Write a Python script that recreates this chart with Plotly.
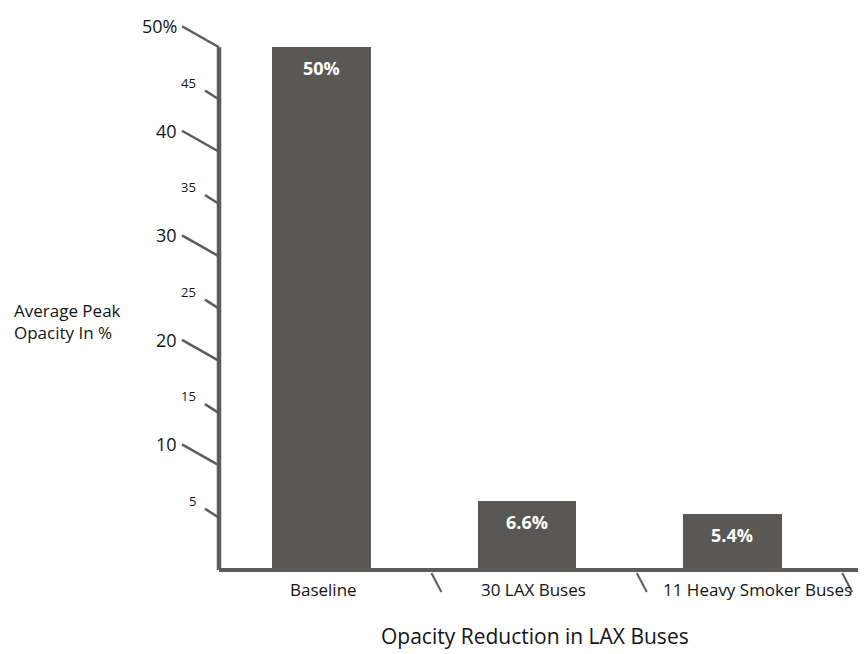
import plotly.graph_objects as go

categories = ["Baseline", "30 LAX Buses", "11 Heavy Smoker Buses"]
values = [50, 6.6, 5.4]
value_labels = ["50%", "6.6%", "5.4%"]
major_ticks = [10, 20, 30, 40, 50]
major_tick_text = ["10", "20", "30", "40", "50%"]
minor_ticks = [5, 15, 25, 35, 45]
minor_tick_text = ["5", "15", "25", "35", "45"]

# style only: small horizontal nudges of the category labels (pixels)
label_nudge = [2, 6, 25]

AX = "#5c5c5c"
BAR = "#595856"
TXT = "#141414"
FONT = "Open Sans"
YMAX = 50.5
XR = [-0.5, 2.65]

fig = go.Figure()
fig.add_trace(go.Bar(
    x=list(range(len(categories))), y=values,
    width=0.48, marker=dict(color=BAR, line=dict(width=0)),
    hoverinfo="skip",
))

shapes = []
annotations = []

def yp(v):
    return v / YMAX

# y-axis line
shapes.append(dict(type="line", xref="paper", yref="paper", x0=0, x1=0, y0=0, y1=yp(max(major_ticks)),
                   line=dict(color=AX, width=4.5)))
# x-axis line
shapes.append(dict(type="line", xref="paper", yref="paper", x0=0, x1=1, y0=0, y1=0,
                   line=dict(color=AX, width=4)))

for v, t in zip(major_ticks, major_tick_text):
    shapes.append(dict(type="line", xref="paper", xsizemode="pixel", xanchor=0, x0=-37, x1=0,
                       yref="paper", ysizemode="pixel", yanchor=yp(v), y0=21, y1=0,
                       line=dict(color=AX, width=2.5)))
    annotations.append(dict(xref="paper", x=0, xshift=-40, yref="paper", y=yp(v), yshift=21,
                            text=t, showarrow=False, xanchor="right", yanchor="middle",
                            font=dict(family=FONT, size=18, color=TXT)))
for v, t in zip(minor_ticks, minor_tick_text):
    shapes.append(dict(type="line", xref="paper", xsizemode="pixel", xanchor=0, x0=-14, x1=0,
                       yref="paper", ysizemode="pixel", yanchor=yp(v), y0=9, y1=0,
                       line=dict(color=AX, width=2.5)))
    annotations.append(dict(xref="paper", x=0, xshift=-21, yref="paper", y=yp(v), yshift=17,
                            text=t, showarrow=False, xanchor="right", yanchor="middle",
                            font=dict(family=FONT, size=13, color=TXT)))

# category separators
for i in range(len(categories)):
    shapes.append(dict(type="line", xref="x", xsizemode="pixel", xanchor=i + 0.5, x0=7, x1=17,
                       yref="paper", ysizemode="pixel", yanchor=0, y0=-3, y1=-22,
                       line=dict(color=AX, width=2)))

# category labels
for i, (c, n) in enumerate(zip(categories, label_nudge)):
    annotations.append(dict(xref="x", x=i, xshift=n, yref="paper", y=0, yshift=-19,
                            text=c, showarrow=False, xanchor="center", yanchor="middle",
                            font=dict(family=FONT, size=17, color=TXT)))

# value labels inside bars
for i, (v, t) in enumerate(zip(values, value_labels)):
    annotations.append(dict(xref="x", x=i, yref="y", y=v, yshift=-21, text="<b>" + t + "</b>",
                            showarrow=False, yanchor="middle",
                            font=dict(family=FONT, size=18, color="white")))

# y title
annotations.append(dict(xref="paper", x=0, xshift=-207, yref="paper", y=0.47,
                        text="Average Peak<br>Opacity In %", showarrow=False,
                        xanchor="left", yanchor="middle", align="left",
                        font=dict(family=FONT, size=17, color=TXT)))
# x title
annotations.append(dict(xref="paper", x=0.488, yref="paper", y=0, yshift=-66,
                        text="Opacity Reduction in LAX Buses", showarrow=False,
                        xanchor="center", yanchor="middle",
                        font=dict(family=FONT, size=21, color=TXT)))

# page body has an 8px margin: size the figure so the plot lands where the reference has it
fig.update_layout(
    width=858, height=646,
    margin=dict(l=211, r=0, t=34, b=84, autoexpand=False),
    paper_bgcolor="white", plot_bgcolor="white",
    showlegend=False,
    bargap=0,
    shapes=shapes, annotations=annotations,
    xaxis=dict(range=XR, showgrid=False, zeroline=False, showline=False,
               showticklabels=False, ticks=""),
    yaxis=dict(range=[0, YMAX], showgrid=False, zeroline=False, showline=False,
               showticklabels=False, ticks=""),
)

fig.write_html("out.html")
